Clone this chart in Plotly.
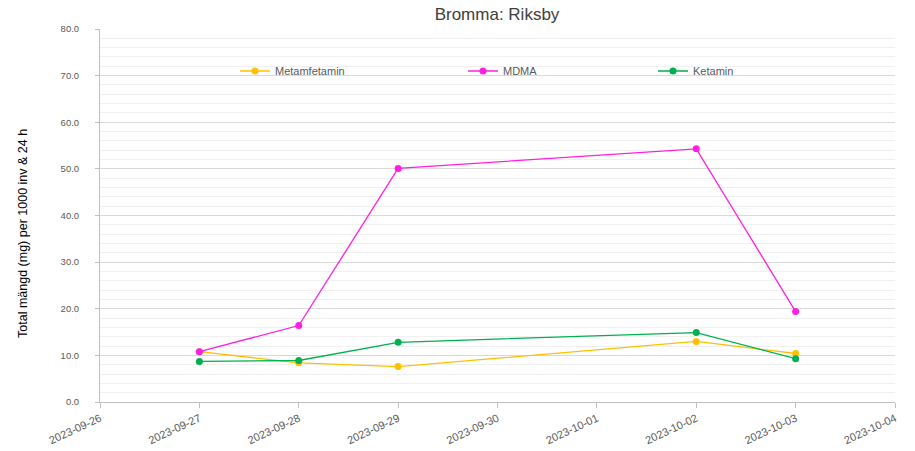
import plotly.graph_objects as go

dates = ["2023-09-27", "2023-09-28", "2023-09-29", "2023-10-02", "2023-10-03"]
metamfetamin = [10.8, 8.4, 7.6, 13.0, 10.4]
mdma = [10.8, 16.4, 50.1, 54.3, 19.4]
ketamin = [8.7, 8.9, 12.8, 14.9, 9.3]

series_names = ["Metamfetamin", "MDMA", "Ketamin"]
series_values = [metamfetamin, mdma, ketamin]
colors = ["#FFC000", "#FF1FE0", "#00B050"]
legend_ids = ["legend", "legend2", "legend3"]

tick_dates = ["2023-09-26", "2023-09-27", "2023-09-28", "2023-09-29", "2023-09-30",
              "2023-10-01", "2023-10-02", "2023-10-03", "2023-10-04"]

fig = go.Figure()
for name, vals, col, lg in zip(series_names, series_values, colors, legend_ids):
    fig.add_trace(go.Scatter(
        x=dates, y=vals, name=name, mode="lines+markers",
        line=dict(color=col, width=1.3),
        marker=dict(color=col, size=7, symbol="circle"),
        legend=lg, showlegend=True,
    ))

W, H = 915, 451
L, T = 100, 29
R = W - 895
B = H - 402
pw, ph = W - L - R, H - T - B


def px_x(px):
    return (px - L) / pw


def px_y(py):
    return (H - B - py) / ph


FONT = "Liberation Sans, Arial"
leg_y = px_y(71)
leg_common = dict(orientation="h", xref="paper", yref="paper",
                  yanchor="middle", xanchor="left", bgcolor="rgba(0,0,0,0)",
                  font=dict(family=FONT, size=11, color="#595959"))
fig.update_layout(
    width=W, height=H,
    margin=dict(l=L, r=R, t=T, b=B, autoexpand=False),
    paper_bgcolor="white", plot_bgcolor="white",
    title=dict(text="Bromma: Riksby", x=px_x(497), xref="paper", xanchor="center",
               y=1 - 14 / H, yanchor="middle",
               font=dict(family=FONT, size=17, color="#404040")),
    legend=dict(x=px_x(235), y=leg_y, **leg_common),
    legend2=dict(x=px_x(463), y=leg_y, **leg_common),
    legend3=dict(x=px_x(653), y=leg_y, **leg_common),
    xaxis=dict(
        type="date", range=["2023-09-26", "2023-10-04"],
        tickvals=tick_dates, ticktext=tick_dates, tickangle=-25,
        tickfont=dict(family=FONT, size=11, color="#595959"),
        showgrid=False, showline=True, linecolor="#BFBFBF", linewidth=1,
        ticks="outside", ticklen=5, tickcolor="#BFBFBF", zeroline=False,
        automargin=False,
    ),
    yaxis=dict(
        range=[0, 80], dtick=10, tickformat=".1f",
        tickfont=dict(family=FONT, size=9.5, color="#595959"),
        showgrid=True, gridcolor="#D9D9D9", gridwidth=1,
        minor=dict(dtick=2, showgrid=True, gridcolor="#F0F0F0", gridwidth=1),
        showline=True, linecolor="#BFBFBF", linewidth=1,
        ticks="outside", ticklen=4, tickcolor="#BFBFBF", zeroline=False,
        ticklabelstandoff=14,
        automargin=False,
    ),
    annotations=[dict(
        text="Total mängd (mg) per 1000 inv & 24 h", textangle=-90,
        xref="paper", yref="paper", x=px_x(23), y=px_y(234),
        xanchor="center", yanchor="middle", showarrow=False,
        font=dict(family=FONT, size=12.5, color="#000000"),
    )],
)

fig.write_html("out.html", config={"displayModeBar": False},
               post_script="document.body.style.margin='0';")
